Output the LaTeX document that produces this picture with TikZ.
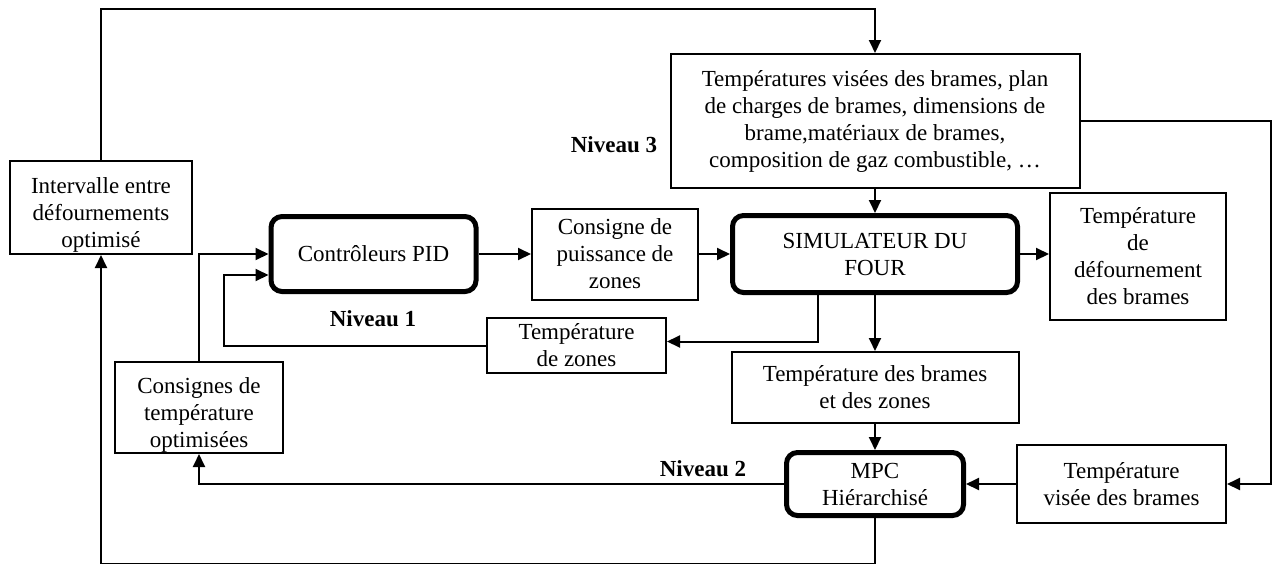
\documentclass[tikz,border=0pt]{standalone}
\usepackage{fontspec}
\setmainfont{Liberation Serif}
\usepackage{tikz}
\usetikzlibrary{arrows.meta, positioning}

\begin{document}
\begin{tikzpicture}[
        x=1pt, y=-1pt,
        box/.style={rectangle, draw, line width=2pt, align=center, inner sep=2pt, font=\fontsize{23}{27}\selectfont},
        ctrl/.style={rectangle, draw, rounded corners=11pt, line width=5pt, align=center, inner sep=2pt, font=\fontsize{23}{27}\selectfont},
        lowtext/.style={text height=83pt, text depth=4pt},
        lvl/.style={font=\fontsize{23}{27}\selectfont\bfseries},
        arrow/.style={line width=2pt, -{Triangle[length=13pt, width=12pt]}}
        ]
        \useasboundingbox (0,0) rectangle (1276,563);

        % Nodes
        \node (inter) [box, lowtext, minimum width=182pt, minimum height=93pt] at (101,207.5) {Intervalle entre\\défournements\\optimisé};
        \node (pid) [ctrl, minimum width=205pt, minimum height=75pt] at (373.5,254) {Contrôleurs PID};
        \node (consigne) [box, minimum width=166pt, minimum height=91pt] at (615,254) {Consigne de\\puissance de\\zones};
        \node (sim) [ctrl, minimum width=285pt, minimum height=77pt] at (875,254) {SIMULATEUR DU\\FOUR};
        \node (top) [box, minimum width=409pt, minimum height=134pt] at (875,121) {Températures visées des brames, plan\\de charges de brames, dimensions de\\brame,matériaux de brames,\\composition de gaz combustible, …};
        \node (defourn) [box, minimum width=176pt, minimum height=127pt] at (1138,256.5) {Température\\de\\défournement\\des brames};
        \node (tzones) [box, minimum width=179pt, minimum height=55pt] at (576.5,345.5) {Température\\de zones};
        \node (tbz) [box, minimum width=287pt, minimum height=71pt] at (875,387.5) {Température des brames\\et des zones};
        \node (mpc) [ctrl, minimum width=177pt, minimum height=63pt] at (875,484) {MPC\\Hiérarchisé};
        \node (tvisee) [box, minimum width=209pt, minimum height=78pt] at (1121.5,484) {Température\\visée des brames};
        \node (cons) [box, lowtext, minimum width=168pt, minimum height=91pt] at (199,407.5) {Consignes de\\température\\optimisées};

        % Level labels
        \node (niv3) [lvl] at (614,145) {Niveau 3};
        \node (niv1) [lvl] at (373,319) {Niveau 1};
        \node (niv2) [lvl] at (703,469) {Niveau 2};

        % Arrows
        \draw [arrow] (inter.north) |- ([yshift=44pt]top.north) -- (top.north);
        \draw [arrow] (top.south) -- (sim.north);
        \draw [arrow] (pid.east) -- (consigne.west);
        \draw [arrow] (consigne.east) -- (sim.west);
        \draw [arrow] (sim.east) -- (sim.east -| defourn.west);
        \draw [arrow] (top.east) -- ++(190,0) |- (tvisee.east);
        \draw [arrow] (tvisee.west) -- (mpc.east);
        \draw [arrow] (sim.south) -- (tbz.north);
        \draw [arrow] (tbz.south) -- (mpc.north);
        \draw [arrow] ([xshift=-57pt]sim.south) |- ([yshift=4pt]tzones.east);
        \draw [arrow] (tzones.west) -| ([xshift=-45pt,yshift=-21pt]pid.west) -- ([yshift=-21pt]pid.west);
        \draw [arrow] (cons.north) |- (pid.west);
        \draw [arrow] (mpc.west) -| (cons.south);
        \draw [arrow] (mpc.south) -- ++(0,46) -| (inter.south);

    \end{tikzpicture}
\end{document}
